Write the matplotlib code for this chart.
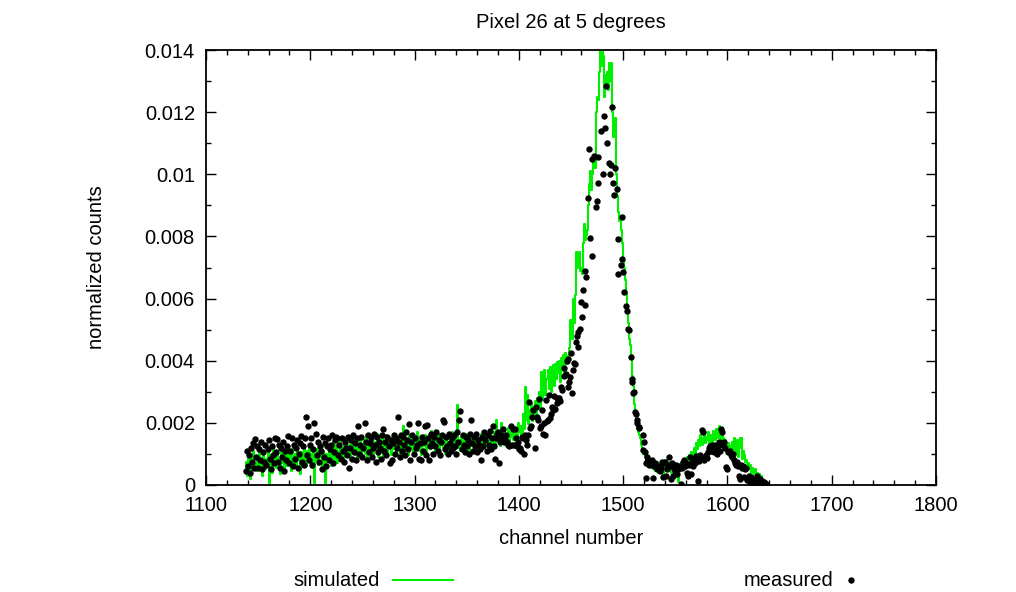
import numpy as np
import matplotlib.pyplot as plt
from matplotlib.lines import Line2D
from matplotlib.ticker import MultipleLocator, FuncFormatter

plt.rcParams['font.family'] = ['Liberation Sans', 'DejaVu Sans']

scale = 1e-5  # values below are in units of 1e-5

# measured, one value per channel starting at 1138
meas_low_start = 1138
meas_low = [
    45, 110, 60, 95, 40, 120, 75, 135, 55, 148,
    90, 125, 55, 115, 80, 140, 50, 105, 75, 130,
    65, 115, 145, 85, 50, 125, 95, 70, 150, 105,
    147, 75, 130, 55, 120, 90, 140, 45, 110, 80,
    125, 158, 70, 110, 150, 60, 130, 85, 120, 145,
    55, 100, 135, 158, 75, 125, 65, 150, 218, 95,
    190, 80, 130, 150, 65, 115, 199, 165, 95, 140,
    75, 125, 110, 50, 155, 90, 135, 60, 125, 150,
    80, 115, 130, 160, 70, 105, 145, 155, 150, 95,
    130, 85, 150, 110, 75, 140, 120, 95, 155, 55,
    120, 145, 85, 160, 105, 135, 80, 150, 190, 100,
    130, 155, 90, 120, 200, 140, 80, 160, 105, 135,
    150, 90, 120, 165, 130, 75, 155, 105, 140, 120,
    85, 160, 180, 110, 140, 95, 155, 125, 72, 145,
    80, 135, 160, 100, 150, 120, 218, 140, 90, 160,
    110, 155, 130, 95, 170, 145, 115, 195, 80, 140,
    160, 100, 150, 120, 130, 200, 85, 135, 80, 155,
    110, 140, 190, 95, 193, 150, 80, 125, 165, 135,
    100, 155, 125, 170, 110, 145, 95, 140, 160, 209,
    204, 115, 155, 125, 100, 165, 135, 110, 150, 120,
    160, 125, 100, 170, 140, 209, 238, 115, 160, 130,
    105, 155, 125, 145, 100, 165, 209, 135, 110, 155,
    125, 165, 105, 145, 130, 115, 80, 155, 125, 170,
    145, 110, 160, 130, 175, 115, 150, 190, 125, 84,
    150, 165, 170, 72, 140, 160, 150, 180, 140, 145,
    160, 140, 130, 125, 190, 130, 180, 130, 180, 150,
    125, 140, 115, 120, 110, 155, 150, 100, 160, 145,
    130, 160, 268, 185, 190, 220, 240, 120, 250, 220,
    210, 276, 185, 190, 240, 165, 200, 160, 275, 205,
    210, 290, 215, 230, 250, 240, 285, 245,
]

# measured around the peak, channel
meas_peak_ch = [
    1436.2, 1437.0, 1438.4, 1439.0, 1440.6, 1441.0, 1443.0, 1443.5, 1444.9, 1446.5,
    1446.8, 1447.4, 1448.0, 1449.0, 1450.2, 1451.2, 1452.0, 1453.1, 1453.7, 1454.4,
    1455.4, 1456.4, 1457.0, 1458.6, 1459.5, 1460.2, 1461.7, 1463.4, 1463.8, 1464.3,
    1466.6, 1467.2, 1468.2, 1469.8, 1470.3, 1472.0, 1473.5, 1474.6, 1475.5, 1476.3,
    1478.7, 1480.3, 1481.6, 1482.5, 1483.2, 1484.2, 1486.6, 1487.3, 1488.8, 1489.6,
    1490.5, 1491.5, 1492.2, 1493.7, 1494.7, 1495.3, 1497.9, 1498.5, 1499.2, 1500.0,
    1501.0, 1502.7, 1503.5, 1504.3, 1505.5, 1507.2, 1508.3, 1508.9, 1509.7, 1510.5,
    1511.3, 1512.0, 1513.2, 1513.6, 1515.0, 1515.5, 1518.7, 1519.3, 1520.0, 1521.0,
    1521.9, 1522.5, 1521.6, 1523.0,
]
meas_peak = [
    264, 280, 280, 270, 316, 307, 350, 376, 357, 400,
    405, 316, 330, 349, 424, 295, 370, 392, 390, 461,
    480, 443, 494, 501, 590, 540, 628, 690, 579, 668,
    923, 1080, 796, 737, 1050, 1060, 894, 914, 973, 1055,
    1139, 1002, 1188, 1150, 1285, 1100, 1036, 1000, 1030, 1217,
    973, 933, 1020, 953, 792, 679, 708, 864, 726, 687,
    620, 576, 560, 501, 500, 413, 340, 330, 295, 300,
    236, 230, 210, 198, 187, 182, 113, 161, 139, 107,
    72, 89, 22, 75,
]

# measured tail, one value per channel starting at 1524
meas_tail_start = 1524
meas_tail = [
    80, 65, 75, 70, 80, 22, 60, 70, 50, 55,
    60, 45, 55, 75, 25, 70, 75, 30, 50, 65,
    89, 60, 20, 70, 30, 55, 45, 65, 35, 50,
    60, 3, 55, 75, 80, 60, 70, 40, 30, 65,
    91, 35, 75, 60, 85, 70, 93, 85, 14, 77,
    95, 90, 177, 170, 80, 95, 88, 105, 118, 125,
    110, 130, 120, 105, 130, 115, 100, 125, 140, 110,
    179, 170, 130, 140, 120, 57, 50, 105, 110, 95,
    90, 100, 80, 70, 65, 75, 60, 30, 20, 65,
    55, 60, 25, 50, 55, 15, 20, 30, 10, 25,
    15, 5, 20, 10, 30, 5, 15, 20, 8, 12,
    3, 10, 5, 2,
]

# simulated, one value per channel starting at 1138
sim_start = 1138
sim = [
    40, 75, 30, 95, 60, 20, 85, 50, 110, 70,
    45, 90, 65, 120, 55, 80, 30, 100, 70, 50,
    85, 60, 115, 5, 75, 95, 40, 130, 65, 90,
    55, 105, 80, 35, 120, 70, 95, 50, 85, 110,
    60, 130, 75, 95, 45, 115, 85, 70, 100, 55,
    120, 80, 95, 35, 105, 75, 125, 90, 60, 110,
    85, 130, 70, 100, 55, 120, 5, 95, 80, 115,
    65, 135, 90, 105, 50, 110, 85, 5, 100, 75,
    125, 90, 60, 115, 140, 80, 105, 130, 70, 110,
    95, 145, 85, 120, 75, 135, 100, 150, 90, 115,
    130, 80, 155, 105, 120, 95, 140, 75, 125, 110,
    150, 90, 130, 115, 145, 100, 160, 85, 125, 135,
    105, 150, 120, 95, 140, 115, 165, 90, 130, 145,
    110, 155, 85, 135, 120, 160, 100, 140, 125, 150,
    95, 145, 130, 115, 165, 105, 140, 120, 155, 100,
    135, 190, 110, 150, 125, 140, 95, 160, 120, 145,
    130, 105, 155, 120, 140, 170, 110, 135, 150, 95,
    145, 125, 160, 100, 140, 130, 155, 115, 175, 120,
    135, 150, 105, 145, 125, 165, 110, 140, 130, 155,
    120, 145, 100, 160, 135, 115, 150, 125, 170, 105,
    140, 130, 160, 257, 120, 145, 110, 155, 135, 125,
    150, 115, 165, 130, 140, 105, 155, 125, 145, 135,
    110, 160, 130, 150, 120, 145, 165, 115, 140, 130,
    155, 125, 145, 110, 160, 135, 150, 120, 140, 170,
    130, 210, 145, 160, 125, 200, 140, 155, 175, 130,
    165, 150, 185, 140, 170, 155, 190, 145, 175, 160,
    185, 150, 200, 170, 190, 160, 230, 180, 316, 210,
    290, 195, 240, 220, 260, 205, 250, 230, 270, 215,
    280, 250, 300, 240, 365, 275, 330, 370, 290, 340,
    370, 310, 380, 300, 360, 385, 320, 390, 340, 395,
    360, 400, 330, 410, 370, 420, 360, 425, 390, 415,
    400, 440, 530, 470, 600, 520, 610, 750, 700, 745,
    750, 690, 700, 680, 780, 840, 790, 805, 820, 900,
    970, 1010, 950, 1000, 1050, 1020, 1200, 1250, 1240, 1330,
    1400, 1350, 1420, 1380, 1250, 1320, 1280, 1330, 1270, 1357,
    1300, 1357, 1200, 1120, 1150, 1180, 1000, 930, 880, 850,
    820, 780, 730, 700, 660, 620, 560, 520, 470, 450,
    420, 350, 320, 260, 230, 200, 180, 170, 160, 150,
    130, 110, 100, 90, 80, 85, 70, 60, 75, 55,
    65, 50, 70, 45, 60, 75, 40, 55, 65, 50,
    70, 35, 60, 80, 45, 65, 55, 75, 40, 60,
    50, 70, 30, 55, 65, 10, 60, 45, 70, 50,
    75, 60, 85, 55, 90, 70, 95, 80, 105, 90,
    120, 100, 135, 115, 145, 125, 160, 140, 130, 150,
    165, 135, 155, 145, 170, 130, 150, 160, 140, 175,
    155, 145, 180, 150, 190, 165, 140, 175, 150, 130,
    145, 120, 110, 135, 105, 125, 95, 140, 115, 150,
    100, 130, 145, 90, 120, 150, 85, 110, 95, 75,
    80, 60, 70, 50, 65, 40, 55, 45, 35, 50,
    30, 40, 25, 35, 20, 30, 10,
]

meas_x = np.concatenate([
    np.arange(meas_low_start, meas_low_start + len(meas_low)),
    np.array(meas_peak_ch),
    np.arange(meas_tail_start, meas_tail_start + len(meas_tail)),
])
meas_y = np.concatenate([meas_low, meas_peak, meas_tail]) * scale
sim_x = np.arange(sim_start, sim_start + len(sim))
sim_y = np.array(sim) * scale

fs = 14.5
fig = plt.figure(figsize=(10.16, 5.92), dpi=100)
ax = fig.add_axes([206 / 1016, 1 - 485 / 592, 730 / 1016, 435 / 592])

green = '#00ee00'
ax.step(sim_x, sim_y, where='mid', color=green, lw=1.5)
ax.plot(meas_x, meas_y, 'o', color='black', ms=4.6, mec='none')

ax.set_xlim(1100, 1800)
ax.set_ylim(0, 0.014)
ax.xaxis.set_major_locator(MultipleLocator(100))
ax.xaxis.set_minor_locator(MultipleLocator(20))
ax.yaxis.set_major_locator(MultipleLocator(0.002))
ax.yaxis.set_minor_locator(MultipleLocator(0.001))
ax.yaxis.set_major_formatter(FuncFormatter(lambda v, p: '%g' % round(v, 4)))
ax.tick_params(which='both', direction='in', top=True, right=True,
               labelsize=fs, width=1)
ax.tick_params(which='major', length=7, pad=8)
ax.tick_params(which='minor', length=3.5)
for s in ax.spines.values():
    s.set_linewidth(1.3)

ax.set_title('Pixel 26 at 5 degrees', fontsize=fs, pad=16)
ax.set_xlabel('channel number', fontsize=fs, labelpad=10)
ax.set_ylabel('normalized counts', fontsize=fs, labelpad=28)

# legend below the plot, gnuplot style
ly = 1 - 580 / 592
fig.text(380 / 1016, ly, 'simulated', ha='right', va='center', fontsize=fs)
fig.add_artist(Line2D([393 / 1016, 453 / 1016], [ly, ly], color=green, lw=1.5))
fig.text(833 / 1016, ly, 'measured', ha='right', va='center', fontsize=fs)
fig.add_artist(Line2D([851 / 1016], [ly], marker='o', color='black',
                      ms=4.6, mec='none', lw=0))

fig.savefig('out.png', dpi=100)
